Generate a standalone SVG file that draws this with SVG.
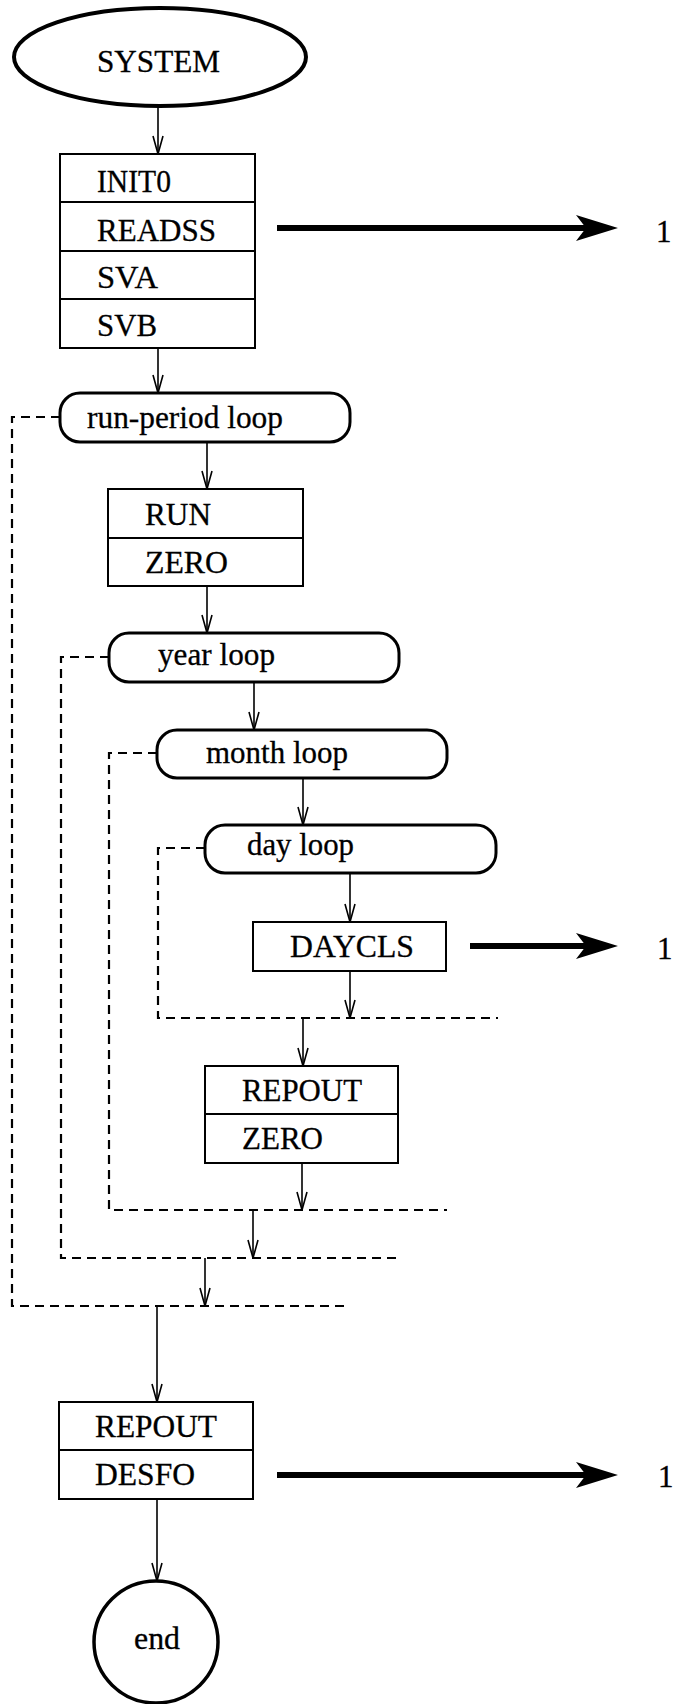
<svg xmlns="http://www.w3.org/2000/svg" width="673" height="1704" viewBox="0 0 673 1704">
<defs>
<style>
text{font-family:"Liberation Serif","Times New Roman",serif;font-size:31px;fill:#000;stroke:#000;stroke-width:0.3}
.box{fill:#fff;stroke:#000;stroke-width:2}
.loop{fill:#fff;stroke:#000;stroke-width:3}
.div{stroke:#000;stroke-width:2}
.arr{stroke:#000;stroke-width:1.6;fill:none;marker-end:url(#v)}
.dash{stroke:#000;stroke-width:2.2;fill:none;stroke-dasharray:9 6}
.thick{stroke:#000;stroke-width:6;fill:none;marker-end:url(#big)}
</style>
<marker id="v" viewBox="0 0 20 12" refX="19" refY="6" markerWidth="20" markerHeight="12" markerUnits="userSpaceOnUse" orient="auto">
<path d="M1,1 L19,6 L1,11" fill="none" stroke="#000" stroke-width="1.6"/>
</marker>
<marker id="big" viewBox="0 0 42 26" refX="12" refY="13" markerWidth="42" markerHeight="26" markerUnits="userSpaceOnUse" orient="auto">
<path d="M0,0 L42,13 L0,26 L10,13 Z" fill="#000"/>
</marker>
</defs>
<rect width="673" height="1704" fill="#fff"/>

<g id="connectors">
<line class="arr" x1="158" y1="107" x2="158" y2="154"/>
<line class="arr" x1="158" y1="349" x2="158" y2="393"/>
<line class="arr" x1="207" y1="443" x2="207" y2="489"/>
<line class="arr" x1="207" y1="587" x2="207" y2="633"/>
<line class="arr" x1="254" y1="683" x2="254" y2="730"/>
<line class="arr" x1="303" y1="779" x2="303" y2="825"/>
<line class="arr" x1="350" y1="874" x2="350" y2="922"/>
<line class="arr" x1="350" y1="972" x2="350" y2="1018"/>
<line class="arr" x1="303" y1="1018" x2="303" y2="1066"/>
<line class="arr" x1="302" y1="1164" x2="302" y2="1210"/>
<line class="arr" x1="253" y1="1210" x2="253" y2="1258"/>
<line class="arr" x1="205" y1="1258" x2="205" y2="1306"/>
<line class="arr" x1="157" y1="1306" x2="157" y2="1402"/>
<line class="arr" x1="157" y1="1500" x2="157" y2="1581"/>
<path class="dash" d="M60,417 H12 V1306 H350"/>
<path class="dash" d="M109,657 H61 V1258 H398"/>
<path class="dash" d="M157,753 H109 V1210 H447"/>
<path class="dash" d="M205,848 H158 V1018 H498"/>
<line class="thick" x1="277" y1="228" x2="588" y2="228"/>
<line class="thick" x1="470" y1="946" x2="588" y2="946"/>
<line class="thick" x1="277" y1="1475" x2="588" y2="1475"/>
</g>

<g id="system">
<ellipse cx="160" cy="57" rx="146" ry="49" fill="#fff" stroke="#000" stroke-width="4"/>
<text x="97" y="72" textLength="123" lengthAdjust="spacingAndGlyphs">SYSTEM</text>
</g>

<g id="init-box">
<rect class="box" x="60" y="154" width="195" height="194"/>
<line class="div" x1="60" y1="202" x2="255" y2="202"/>
<line class="div" x1="60" y1="251" x2="255" y2="251"/>
<line class="div" x1="60" y1="299" x2="255" y2="299"/>
<text x="97" y="192" textLength="74" lengthAdjust="spacingAndGlyphs">INIT0</text>
<text x="97" y="241" textLength="119" lengthAdjust="spacingAndGlyphs">READSS</text>
<text x="97" y="288" textLength="61" lengthAdjust="spacingAndGlyphs">SVA</text>
<text x="97" y="336" textLength="60" lengthAdjust="spacingAndGlyphs">SVB</text>
</g>

<g id="runperiod-loop">
<rect class="loop" x="60" y="393" width="290" height="49" rx="20" ry="20"/>
<text x="87" y="428" textLength="196" lengthAdjust="spacingAndGlyphs">run-period loop</text>
</g>

<g id="run-box">
<rect class="box" x="108" y="489" width="195" height="97"/>
<line class="div" x1="108" y1="538" x2="303" y2="538"/>
<text x="145" y="525" textLength="66" lengthAdjust="spacingAndGlyphs">RUN</text>
<text x="145" y="573" textLength="83" lengthAdjust="spacingAndGlyphs">ZERO</text>
</g>

<g id="year-loop">
<rect class="loop" x="109" y="633" width="290" height="49" rx="20" ry="20"/>
<text x="158" y="665" textLength="117" lengthAdjust="spacingAndGlyphs">year loop</text>
</g>

<g id="month-loop">
<rect class="loop" x="157" y="730" width="290" height="48" rx="20" ry="20"/>
<text x="206" y="763" textLength="142" lengthAdjust="spacingAndGlyphs">month loop</text>
</g>

<g id="day-loop">
<rect class="loop" x="205" y="825" width="291" height="48" rx="20" ry="20"/>
<text x="247" y="855" textLength="107" lengthAdjust="spacingAndGlyphs">day loop</text>
</g>

<g id="daycls-box">
<rect class="box" x="253" y="922" width="193" height="49"/>
<text x="290" y="957" textLength="124" lengthAdjust="spacingAndGlyphs">DAYCLS</text>
</g>

<g id="repout-box">
<rect class="box" x="205" y="1066" width="193" height="97"/>
<line class="div" x1="205" y1="1114" x2="398" y2="1114"/>
<text x="242" y="1101" textLength="120" lengthAdjust="spacingAndGlyphs">REPOUT</text>
<text x="242" y="1149" textLength="81" lengthAdjust="spacingAndGlyphs">ZERO</text>
</g>

<g id="final-box">
<rect class="box" x="59" y="1402" width="194" height="97"/>
<line class="div" x1="59" y1="1450" x2="253" y2="1450"/>
<text x="95" y="1437" textLength="122" lengthAdjust="spacingAndGlyphs">REPOUT</text>
<text x="95" y="1485" textLength="100" lengthAdjust="spacingAndGlyphs">DESFO</text>
</g>

<g id="end">
<ellipse cx="156" cy="1642" rx="62" ry="61" fill="#fff" stroke="#000" stroke-width="3.5"/>
<text x="134" y="1649" textLength="46" lengthAdjust="spacingAndGlyphs">end</text>
</g>

<g id="refs">
<text x="656" y="242">1</text>
<text x="657" y="959">1</text>
<text x="658" y="1487">1</text>
</g>
</svg>
